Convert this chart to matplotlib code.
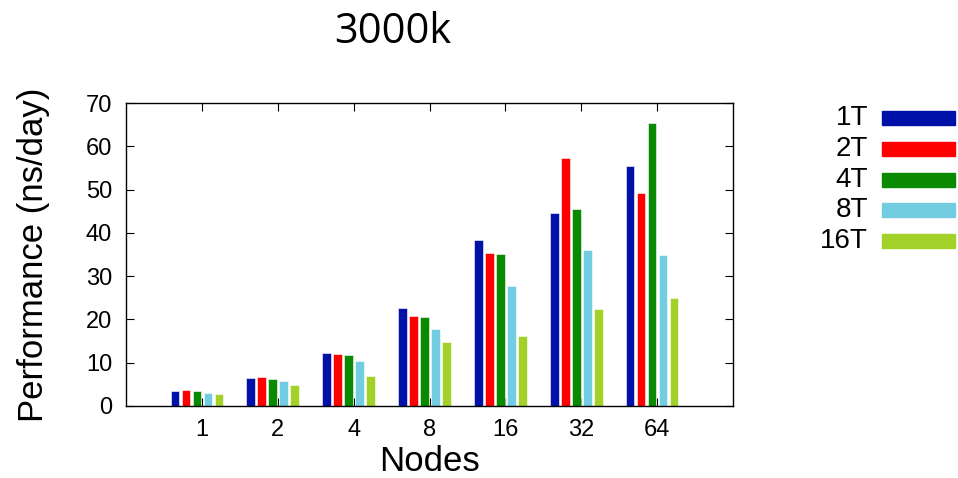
import matplotlib
matplotlib.use('Agg')
import matplotlib.pyplot as plt
from matplotlib.patches import Rectangle
import numpy as np

plt.rcParams['font.family'] = ['Liberation Sans', 'DejaVu Sans']

# data
nodes = ['1', '2', '4', '8', '16', '32', '64']
series = ['1T', '2T', '4T', '8T', '16T']
colors = ['#0011a8', '#ff0000', '#0a8a00', '#72cde0', '#a2d229']
perf_1t = [3.45, 6.45, 12.3, 22.65, 38.3, 44.6, 55.4]
perf_2t = [3.6, 6.6, 12.05, 20.9, 35.4, 57.2, 49.1]
perf_4t = [3.4, 6.3, 11.7, 20.6, 35.1, 45.4, 65.3]
perf_8t = [3.0, 5.7, 10.4, 17.9, 27.8, 36.1, 34.8]
perf_16t = [2.7, 4.8, 6.9, 14.9, 16.2, 22.3, 25.0]
values = [perf_1t, perf_2t, perf_4t, perf_8t, perf_16t]

fig = plt.figure(figsize=(9.58, 4.78), dpi=100)
ax = fig.add_axes([126/958, 1-406/478, (733-126)/958, (406-103)/478])

x = np.arange(1, len(nodes)+1)
bw = 0.115
step = 0.145
shift = -0.066
for i, (vals, c) in enumerate(zip(values, colors)):
    ax.bar(x + (i-2)*step + shift, vals, width=bw, color=c,
           edgecolor='white', linewidth=0.4, zorder=3)

ax.set_xlim(0, 8)
ax.set_ylim(0, 70)
ax.set_xticks(x)
ax.set_xticklabels(nodes)
ax.set_yticks(np.arange(0, 71, 10))
ax.tick_params(direction='in', length=6, width=0.8, top=True, right=True,
               labelsize=17, color='black')
ax.tick_params(axis='y', pad=10)
ax.tick_params(axis='x', pad=9)
for s in ax.spines.values():
    s.set_linewidth(1.0)
    s.set_zorder(4)

ax.set_xlabel('Nodes', fontsize=25, labelpad=3)
ax.set_ylabel('Performance (ns/day)', fontsize=25, labelpad=26)
fig.text(393/958, 1-32/478, '3000k', fontsize=30, family='Open Sans',
         ha='center', va='center')

# legend drawn by hand: label on the left, right aligned, swatch to the right
row_y = [118, 149, 180, 210, 241]
for lab, c, yy in zip(series, colors, row_y):
    fig.text(868/958, 1-yy/478, lab, fontsize=20, ha='right', va='center')
    fig.patches.append(Rectangle((882/958, 1-(yy+7)/478), 73/958, 14/478,
                                 transform=fig.transFigure, color=c, figure=fig))

fig.savefig('out.png', dpi=100)
